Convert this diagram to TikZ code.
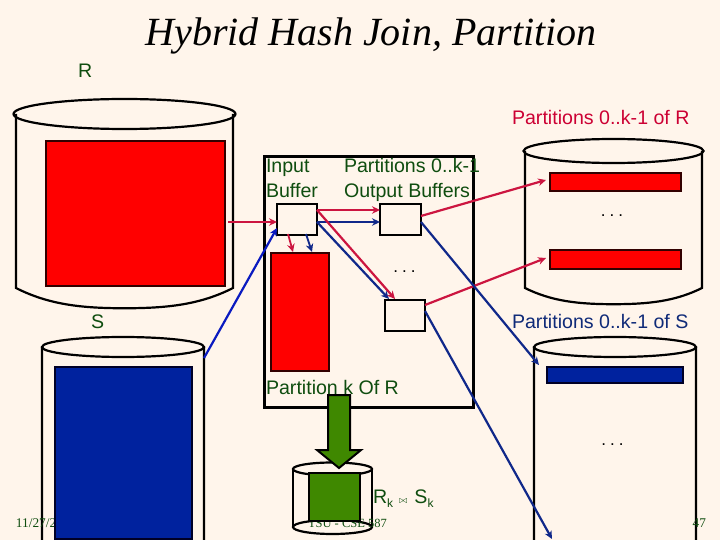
\documentclass[tikz,border=0pt]{standalone}
\usepackage{fontspec}
\setmainfont{Liberation Sans}
\newfontfamily\titlefont{Liberation Serif}
\usetikzlibrary{arrows.meta}
\definecolor{bgc}{HTML}{FFF5EB}
\definecolor{txtgreen}{HTML}{0F4D0F}
\definecolor{txtred}{HTML}{CC0033}
\definecolor{txtblue}{HTML}{0F2A78}
\definecolor{redfill}{HTML}{FF0000}
\definecolor{bluefill}{HTML}{00229E}
\definecolor{greenfill}{HTML}{3F8800}
\definecolor{arrred}{HTML}{CC1540}
\definecolor{arrblue}{HTML}{10288A}
\definecolor{arrbright}{HTML}{0A1AC0}
\tikzset{
  cylbody/.style={draw=black,line width=2.2pt},
  blockred/.style={draw=black!80!red,line width=2pt,fill=redfill,inner sep=0pt,outer sep=0pt},
  blockblue/.style={draw=black!85!blue,line width=2pt,fill=bluefill,inner sep=0pt,outer sep=0pt},
  blockgreen/.style={draw=black,line width=2pt,fill=greenfill,inner sep=0pt,outer sep=0pt},
  bufbox/.style={draw=black,line width=2.2pt,fill=bgc,inner sep=0pt,outer sep=0pt},
  lab/.style={font=\fontsize{19.6}{22}\selectfont,text=txtgreen,inner sep=0pt,outer sep=0pt,anchor=base west},
  labr/.style={lab,text=txtred},
  labb/.style={lab,text=txtblue},
  ftr/.style={font=\titlefont\fontsize{13.3}{15}\selectfont,text=txtgreen,inner sep=0pt,outer sep=0pt,anchor=base west},
  dotsl/.style={font=\fontsize{17}{20}\selectfont,text=black,inner sep=0pt,anchor=base},
  arr/.style={line width=2.2pt,-{Stealth[length=8pt,width=7.5pt]}},
}
\newcommand{\cyl}[6]{% left right top bottomEllipseCentre rx ry
  \draw[cylbody] (#1,#3) -- (#1,#4) .. controls ({#1+0.15*(#2-#1)},{#4+1.1*#6}) and ({#1+0.3*(#2-#1)},{#4+1.35*#6}) .. ({(#1+#2)/2},{#4+1.35*#6}) .. controls ({#2-0.3*(#2-#1)},{#4+1.35*#6}) and ({#2-0.15*(#2-#1)},{#4+1.1*#6}) .. (#2,#4) -- (#2,#3);
  \draw[cylbody] ({(#1+#2)/2},#3) ellipse[x radius=#5,y radius=#6];
}
\begin{document}
\begin{tikzpicture}[x=1pt,y=-1pt]
\useasboundingbox (0,0) rectangle (720,540);
\fill[bgc] (0,0) rectangle (720,540);

% title
\node[font=\titlefont\itshape\fontsize{40}{46}\selectfont,text=black,inner sep=0pt,anchor=base] (title) at (371,46) {Hybrid Hash Join, Partition};
\node[lab] (rlabel) at (78,78) {R};
\node[lab] (slabel) at (91,328) {S};
\node[labr] (pr) at (512,125) {Partitions 0..k-1 of R};
\node[labb] (ps) at (512,328) {Partitions 0..k-1 of S};

% memory box
\node[draw=black,line width=2.2pt,inner sep=0pt,outer sep=0pt,minimum width=209pt,minimum height=251pt,anchor=north west] (mem) at (264.5,156.5) {};
\node[lab] (ib1) at (266,173) {Input};
\node[lab] (ib2) at (266,197) {Buffer};
\node[lab] (ob1) at (344,173) {Partitions 0..k-1};
\node[lab] (ob2) at (344,197) {Output Buffers};
\node[lab] (pk) at (266,394) {Partition k Of R};

% disks
\cyl{16}{233}{114}{288}{111}{15}
\cyl{42}{204}{347}{560}{81}{10}
\cyl{525}{702}{151}{288}{90}{12}
\cyl{534}{696}{347}{560}{81}{10}
\draw[cylbody] (293,469) -- (293,527) (372,469) -- (372,527);
\draw[cylbody] (332.5,469) ellipse[x radius=39.5,y radius=6.5];
\draw[cylbody] (332.5,527) ellipse[x radius=39.5,y radius=7];

% footers
\node[ftr] (date) at (16,527) {11/27/2};
\node[ftr,font=\titlefont\fontsize{12.5}{15}\selectfont] (cse) at (308,527) {TSU - CSE 587};
\node[ftr,anchor=base east] (pg) at (706,527) {47};

% blocks
\node[blockred,minimum width=179pt,minimum height=145pt,anchor=north west] (rblock) at (46,141) {};
\node[blockblue,minimum width=137pt,minimum height=172pt,anchor=north west] (sblock) at (55,367) {};
\node[blockred,minimum width=131pt,minimum height=18pt,anchor=north west] (p0) at (550,173) {};
\node[blockred,minimum width=131pt,minimum height=19pt,anchor=north west] (p1) at (550,250) {};
\node[blockblue,minimum width=136pt,minimum height=16pt,anchor=north west] (sp0) at (547,367) {};
\node[blockred,minimum width=58pt,minimum height=118pt,anchor=north west] (kblock) at (271,253) {};
\node[blockgreen,minimum width=51pt,minimum height=48pt,anchor=north west] (rk) at (309,473) {};

% buffers
\node[bufbox,minimum width=40pt,minimum height=31pt,anchor=north west] (ib) at (277,204) {};
\node[bufbox,minimum width=41pt,minimum height=31pt,anchor=north west] (ob0) at (380,204) {};
\node[bufbox,minimum width=40pt,minimum height=31pt,anchor=north west] (ob1b) at (385,300) {};

% dots
\node[dotsl] (d1) at (612,217) {.\hspace{4pt}.\hspace{4pt}.};
\node[dotsl] (d2) at (404.5,272) {.\hspace{4pt}.\hspace{4pt}.};
\node[dotsl] (d3) at (612.5,445) {.\hspace{4pt}.\hspace{4pt}.};

% green arrow
\fill[greenfill,draw=black,line width=2pt] (328,395) -- (350,395) -- (350,450) -- (361,450) -- (339,468) -- (317,450) -- (328,450) -- cycle;

% join label
\node[lab] (rs) at (373,503) {R\raisebox{-4pt}{\fontsize{12}{12}\selectfont k}\hspace{6pt}{\fontsize{10}{10}\selectfont$\bowtie$}\hspace{7pt}S\raisebox{-4pt}{\fontsize{12}{12}\selectfont k}};

% connectors
\coordinate (rout) at (228,222);
\coordinate (sout) at (204,358);
\coordinate (p0tip) at (546,180);
\coordinate (p1tip) at (546,258);
\coordinate (sptip) at (539,365);
\coordinate (splast) at (552,539);
\draw[arr,arrred] (rout) -- (ib.west |- 0,222);
\draw[arr,arrbright] (sout) -- (ib.west |- 0,228);
\draw[arr,arrred] (ib.east |- 0,210) -- (ob0.west |- 0,210);
\draw[arr,arrblue] (ib.east |- 0,222) -- (ob0.west |- 0,222);
\draw[arr,arrblue] (ib.east |- 0,222) -- (389,299);
\draw[arr,arrred] (ib.east |- 0,210) -- (395,299);
\draw[arr,arrred,line width=1.8pt] (288,234) -- (293,252);
\draw[arr,arrblue,line width=1.8pt] (306,234) -- (312,252);
\draw[arr,arrred] (ob0.east |- 0,216) -- (p0tip);
\draw[arr,arrred] (ob1b.east |- 0,305) -- (p1tip);
\draw[arr,arrblue] (ob0.east |- 0,222) -- (sptip);
\draw[arr,arrblue] (ob1b.east |- 0,311) -- (splast);
\end{tikzpicture}
\end{document}
